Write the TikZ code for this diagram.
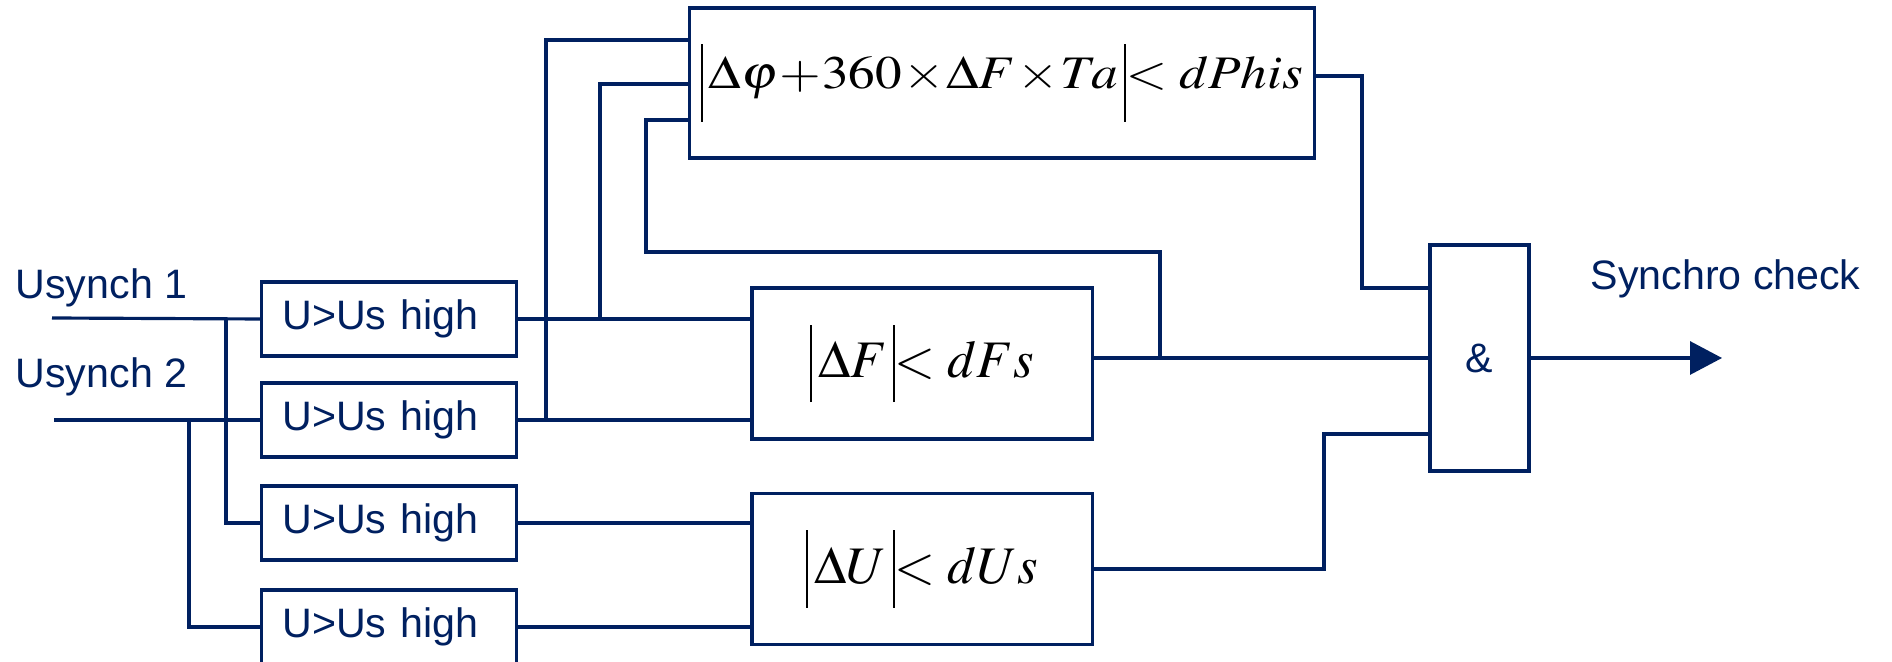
\documentclass[tikz,border=0pt]{standalone}
\usepackage{mathptmx}
\usepackage{fontspec}
\setmainfont{Liberation Serif}
\setsansfont{Liberation Sans}
\usepackage{graphicx}
\usetikzlibrary{arrows.meta}
\definecolor{navy}{RGB}{0,32,96}
\newcommand{\lbl}{\fontsize{11.7}{14}\selectfont\sffamily}
% thin bar of an absolute value, depth and total height
\newcommand{\vb}[2]{\rule[-#1]{0.6pt}{#2}}
\newcommand{\fml}[1]{\fontsize{15}{18}\selectfont$\vb{2.4mm}{7.7mm}\,#1$}
\tikzset{
  wire/.style={draw=navy, line width=0.9pt},
  ubox/.style={draw=navy, line width=0.9pt, text=navy, inner ysep=0pt,
               inner xsep=0.21cm, text width=2.13cm, align=left,
               minimum height=0.74cm},
  cbox/.style={draw=navy, line width=0.9pt, inner sep=0pt,
               minimum width=3.4cm, minimum height=1.51cm},
  tag/.style={anchor=base west, inner sep=0pt, text=navy}
}

\begin{document}
\begin{tikzpicture}[x=0.01cm, y=-0.01cm, font=\lbl]
\useasboundingbox (0,0) rectangle (1892,662);
\clip (0,0) rectangle (1892,662);

% ---- inputs ----
\node[tag] (lu1) at (15,299) {Usynch 1};
\node[tag] (lu2) at (15,388) {Usynch 2};
\coordinate (in1) at (52,318);
\coordinate (in2) at (54,420);

% ---- voltage level blocks ----
\node[ubox] (hi1) at (389,319) {U>Us high};
\node[ubox] (hi2) at (389,420) {U>Us high};
\node[ubox] (hi3) at (389,523) {U>Us high};
\node[ubox] (hi4) at (389,627) {U>Us high};

% ---- comparators ----
\node[cbox, minimum width=6.24cm, minimum height=1.5cm] (phis) at (1002,83)
  {\scalebox{0.89}[0.78]{\fontsize{17}{20}\selectfont
   $\vb{4.2mm}{9.9mm}\,\Delta\varphi\mathbin{\!+\!}360\mathbin{\!\times\!}\Delta F\mathbin{\!\times\!}Ta\,\vb{4.2mm}{9.9mm}\mathord{<}\;dPhis$}};
\node[cbox] (dF) at (922,363.5) {\fml{\Delta F\,\vb{2.4mm}{7.7mm}\mathord{<}\;dFs}};
\node[cbox] (dU) at (922,569) {\fml{\Delta U\,\vb{2.4mm}{7.7mm}\mathord{<}\;dUs}};

% ---- AND gate and output ----
\node[draw=navy, line width=0.9pt, text=navy, inner sep=0pt,
      minimum width=0.99cm, minimum height=2.26cm] (andg) at (1479.5,358) {\&};
\coordinate (out) at (1722,358);
\node[tag] (lout) at (1590,290) {Synchro check};

% ---- wiring: inputs to level blocks ----
\draw[wire] (in1) -- (hi1.west);
\draw[wire] (in2) -- (hi2.west);
\draw[wire] (226,318) |- (hi3.west);
\draw[wire] (189,420) |- (hi4.west);

% level blocks to comparators
\draw[wire] (hi1.east) -- (hi1.east -| dF.west);
\draw[wire] (hi2.east) -- (hi2.east -| dF.west);
\draw[wire] (hi3.east) -- (hi3.east -| dU.west);
\draw[wire] (hi4.east) -- (hi4.east -| dU.west);
\draw[wire] (546,420) |- (phis.west |- 0,40);
\draw[wire] (600,318) |- (phis.west |- 0,84);
\draw[wire] (phis.west |- 0,120) -- (646,120) |- (1160,252) -- (1160,358);

% comparators to AND
\draw[wire] (dF.east |- andg.west) -- (andg.west);
\draw[wire] (phis.east |- 0,76) -| (1362,288) -- (andg.west |- 0,288);
\draw[wire] (dU.east) -| (1324,434) -- (andg.west |- 0,434);
\draw[wire, -{Triangle[length=3.2mm, width=3.3mm]}] (andg.east) -- (out);
\end{tikzpicture}
\end{document}
